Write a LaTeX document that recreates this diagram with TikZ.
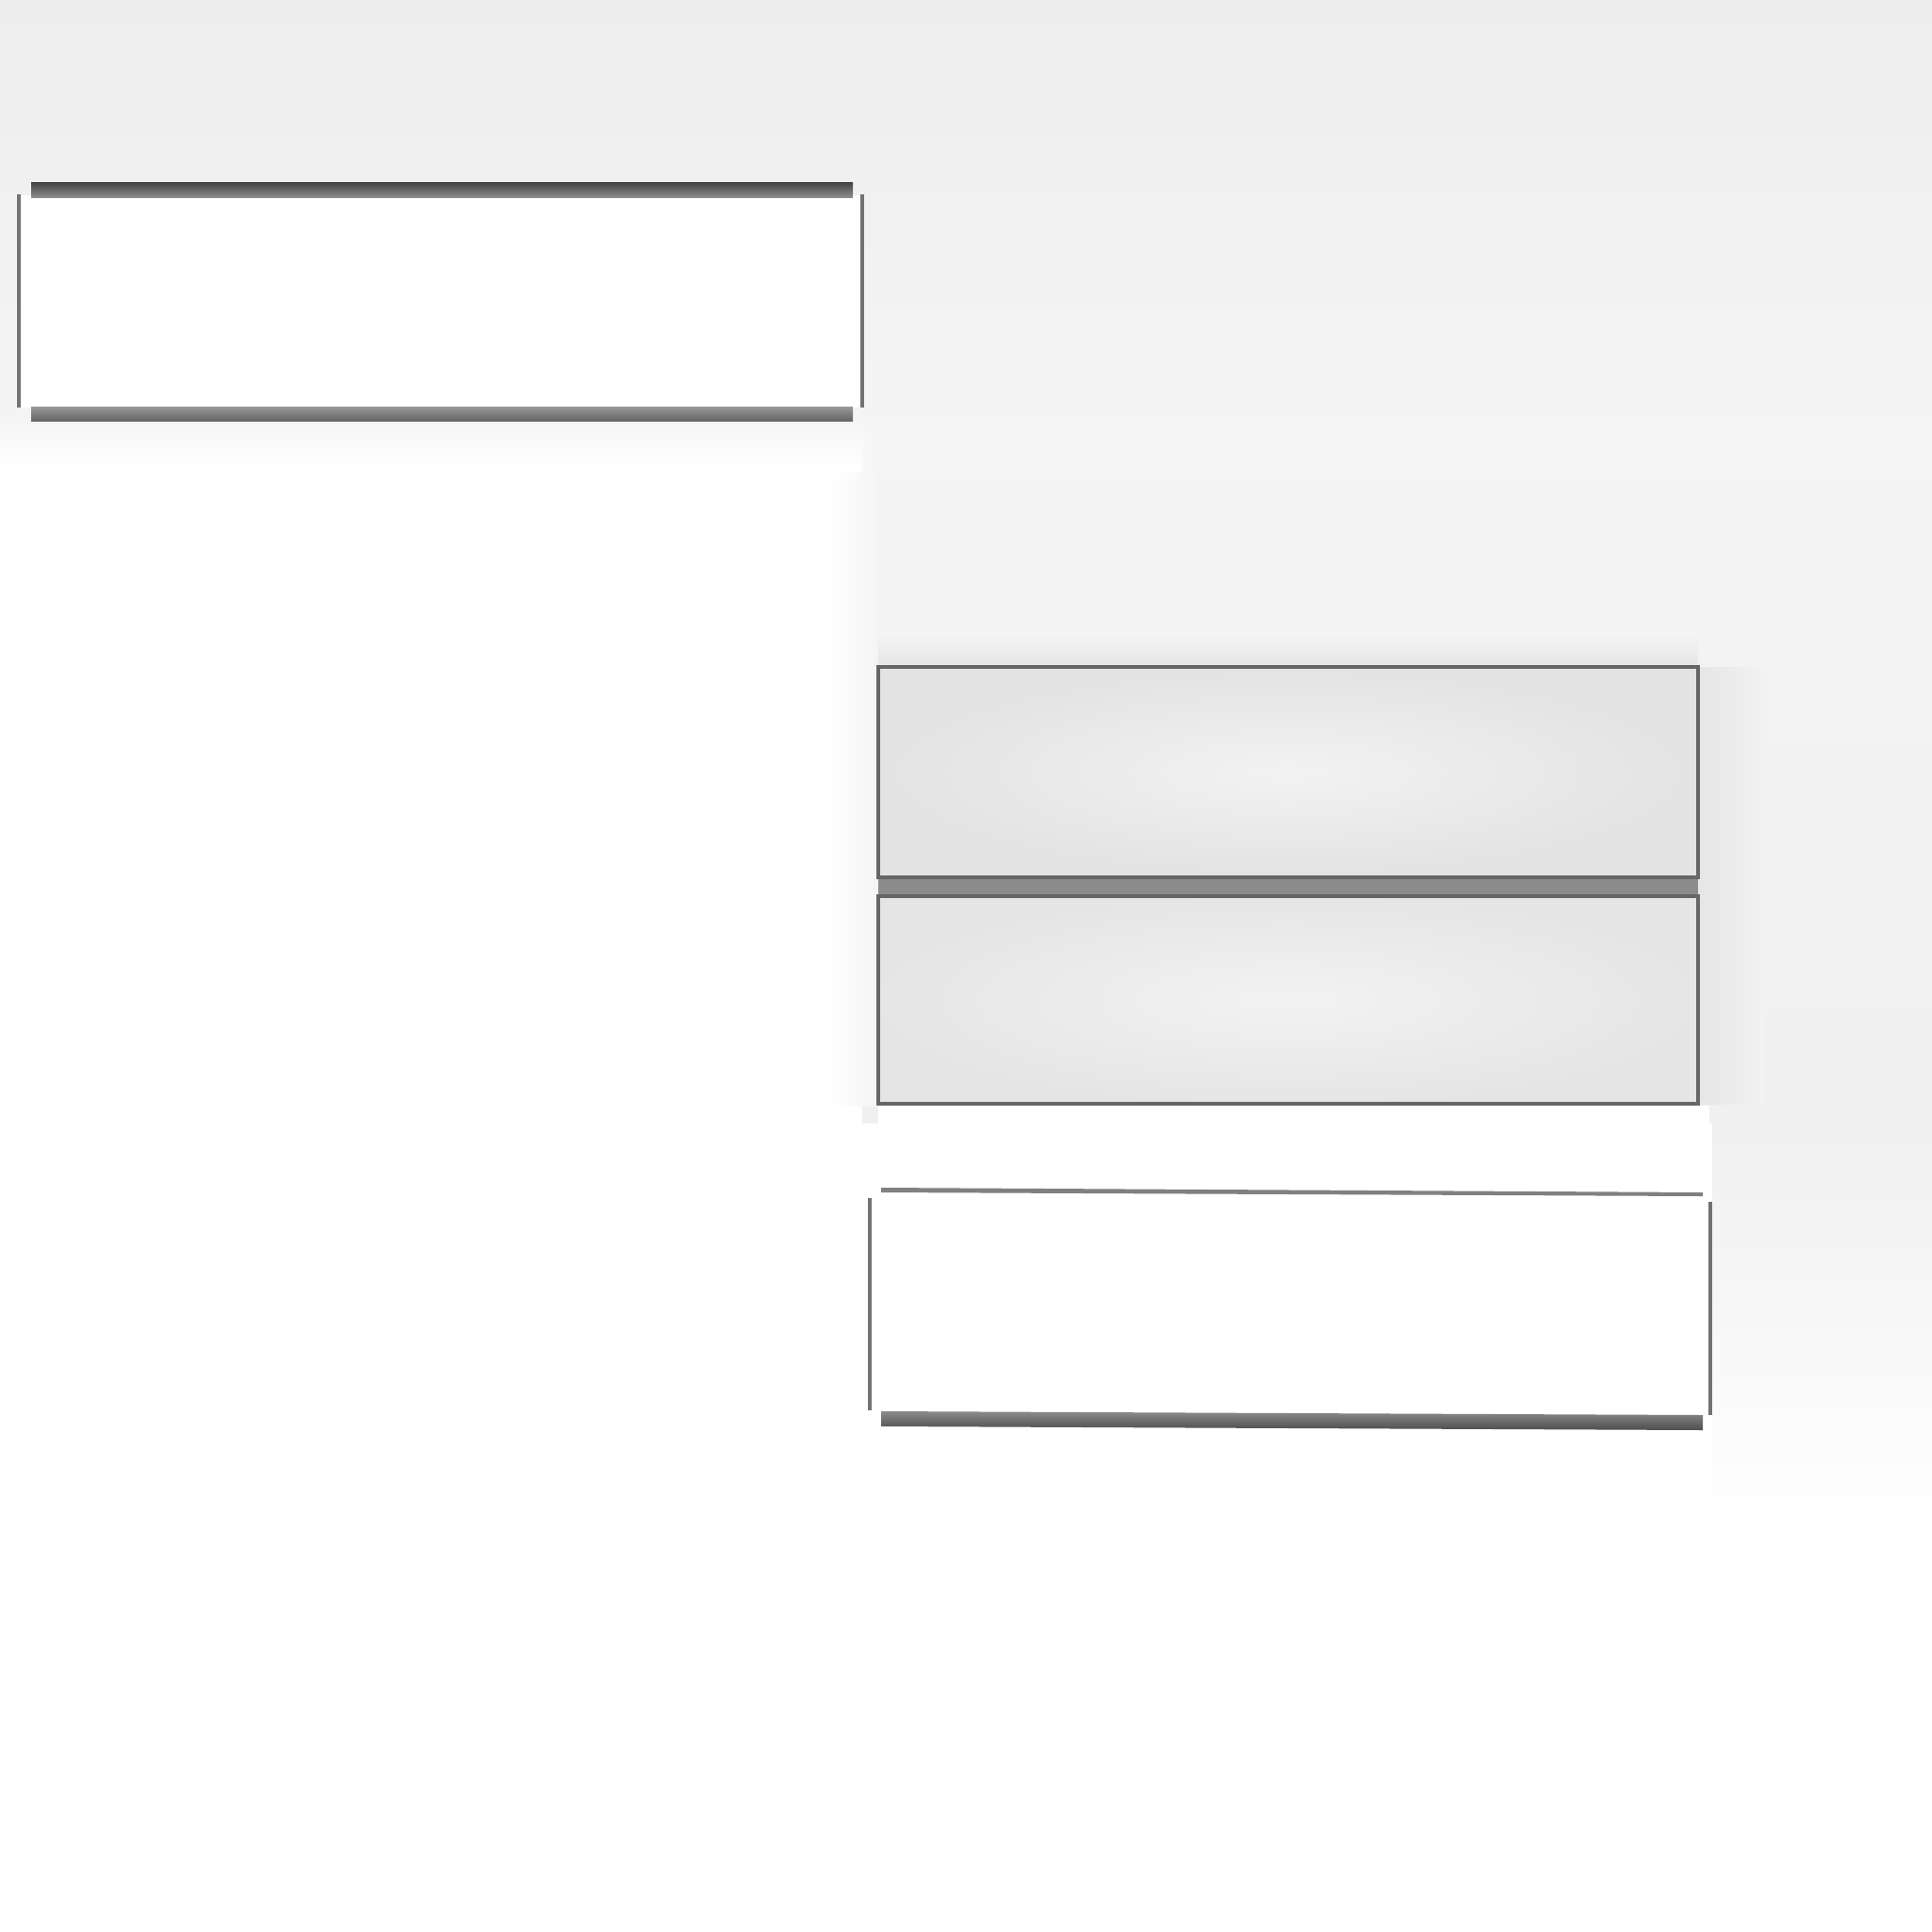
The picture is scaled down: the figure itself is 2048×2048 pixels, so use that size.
\documentclass[tikz,border=0pt]{standalone}
\begin{document}
\begin{tikzpicture}[x=0.01cm,y=-0.01cm]
\useasboundingbox (0,0) rectangle (2048,2048);
\fill[white] (0,0) rectangle (2048,2048);
% background grey area
\shade[top color=black!7,bottom color=black!4] (0,0) rectangle (2048,460);
\shade[top color=black!4,bottom color=black!6] (914,460) rectangle (2048,1190);
\shade[top color=black!6,bottom color=white] (1815,1190) rectangle (2048,1620);
\shade[left color=white,right color=black!4] (880,460) rectangle (930,1172);
\shade[top color=black!4,bottom color=white] (0,445) rectangle (914,500);
% soft shadows around boxes 2/3
\shade[left color=black!10,right color=black!5] (1800,707) rectangle (1870,1170);
\shade[top color=black!4,bottom color=black!10] (931,670) rectangle (1800,707);
\fill[white] (931,1172) rectangle (1812,1258);
% box 1
\fill[white] (22,207) rectangle (912,432);
\shade[top color=black!75,bottom color=black!45] (33,193) rectangle (904,209);
\shade[top color=black!40,bottom color=black!60] (33,431) rectangle (904,446);
\fill[black!55] (18,206) rectangle (22,432);
\fill[black!55] (912,206) rectangle (916,432);
% box 2 and 3
\fill[black!45] (931,928) rectangle (1800,952);
\shade[inner color=black!5,outer color=black!11,draw=black!60,line width=1.4pt] (931,707) rectangle (1800,930);
\shade[inner color=black!5,outer color=black!10,draw=black!60,line width=1.4pt] (931,950) rectangle (1800,1170);
% box 4
\fill[white] (922,1266) rectangle (1812,1498);
\fill[black!50] (934,1259) -- (1805,1264) -- (1805,1268) -- (934,1264) -- cycle;
\fill[black!55] (920,1270) rectangle (924,1495);
\fill[black!55] (1811,1274) rectangle (1815,1500);
\shade[top color=black!45,bottom color=black!70] (934,1496) -- (1805,1500) -- (1805,1516) -- (934,1512) -- cycle;
\end{tikzpicture}
\end{document}
